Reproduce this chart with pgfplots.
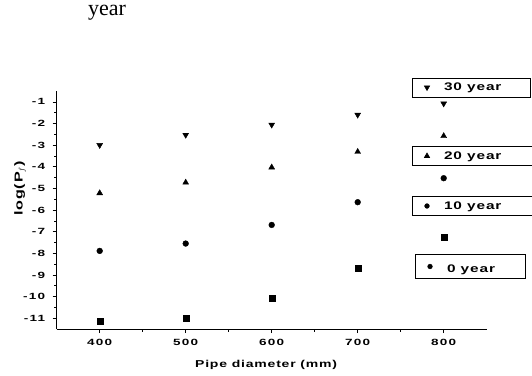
\documentclass[border=0pt]{standalone}
\usepackage{pgfplots}
\usepackage{pgfplotstable}
\pgfplotsset{compat=1.18}
\usepackage{fontspec}
\setmainfont{Liberation Sans}
\newfontfamily\lab{Liberation Sans}[FakeStretch=1.4,LetterSpace=8]
\newfontfamily\tk{Liberation Sans}[FakeStretch=1.5,LetterSpace=14]
\newfontfamily\serif{Liberation Serif}

\pgfplotstableread{
d   t0     t10    t20    t30
400 -11.15 -7.89  -5.22  -3.00
500 -11.01 -7.55  -4.73  -2.53
600 -10.07 -6.69  -4.03  -2.06
700 -8.70  -5.64  -3.31  -1.60
800 -7.24  -4.53  -2.58  -1.08
}\data

\pgfplotsset{
  frame/.style={at={(56.7pt,46pt)}, anchor=south west, width=430pt, height=238pt, scale only axis},
  legbox/.style={frame, hide axis, xmin=0, xmax=1, ymin=0, ymax=1,
    legend image code/.code={\path[draw=none,fill=none] (0pt,-1pt) rectangle (30pt,1pt); \draw[##1] plot coordinates {(15pt,0pt)};},
    legend style={at={(#1)}, anchor=center, draw=black, line width=0.6pt,
      font=\lab\bfseries\fontsize{11}{12}\selectfont, inner xsep=0pt, inner ysep=3pt,
      /tikz/column sep=0pt,
      legend cell align=left}},
}

\begin{document}
\begin{tikzpicture}[x=1pt,y=1pt]
\useasboundingbox (0,0) rectangle (532,375);
\node[font=\serif\fontsize{22}{24}\selectfont, anchor=base] at (107,359) {year};

\begin{axis}[frame,
  xmin=350, xmax=850, ymin=-11.5, ymax=-0.5,
  axis lines*=left,
  axis line style={line width=0.8pt},
  tick align=outside, major tick length=4pt, minor tick length=2.5pt,
  tick style={black, line width=0.6pt},
  minor x tick num=1, minor y tick num=1,
  xtick={400,500,600,700,800}, xticklabels={400,500,600,700,800},
  ytick={-11,-10,-9,-8,-7,-6,-5,-4,-3,-2,-1},
  yticklabels={-11,-10,-9,-8,-7,-6,-5,-4,-3,-2,-1},
  ticklabel style={font=\tk\bfseries\fontsize{9}{10}\selectfont},
  xticklabel style={yshift=-2.5pt},
  yticklabel style={xshift=-4pt},
  xlabel={Pipe diameter (mm)},
  xlabel style={at={(axis description cs:0.487,-0.151)}, anchor=center,
    font=\lab\bfseries\fontsize{10}{12}\selectfont},
  ylabel={log(P$_f$)},
  ylabel style={at={(axis description cs:-0.085,0.59)}, anchor=center,
    font=\lab\bfseries\fontsize{11.5}{13}\selectfont},
]
\addplot[only marks, mark=square*, mark size=3pt] table[x=d,y=t0]{\data};
\addplot[only marks, mark=*, mark size=2.9pt] table[x=d,y=t10]{\data};
\addplot[only marks, mark=triangle*, mark size=3.4pt] table[x=d,y=t20]{\data};
\addplot[only marks, mark=triangle*, mark size=3.4pt, mark options={rotate=180}] table[x=d,y=t30]{\data};
\end{axis}

\begin{axis}[legbox={0.9635,1.0147}]
\addlegendimage{only marks, mark=triangle*, mark size=3pt, mark options={rotate=180}}
\addlegendentry{\makebox[84pt][l]{30 year}}
\end{axis}
\begin{axis}[legbox={0.9658,0.7269}]
\addlegendimage{only marks, mark=triangle*, mark size=3pt}
\addlegendentry{\makebox[86pt][l]{20 year}}
\end{axis}
\begin{axis}[legbox={0.9658,0.5168}]
\addlegendimage{only marks, mark=*, mark size=2.3pt}
\addlegendentry{\makebox[86pt][l]{10 year}}
\end{axis}
\begin{axis}[legbox={0.9612,0.2626}]
\addlegendimage{only marks, mark=*, mark size=2.3pt}
\addlegendentry{\makebox[76pt][l]{\rule{0pt}{13pt}0 year}}
\end{axis}
\end{tikzpicture}
\end{document}
